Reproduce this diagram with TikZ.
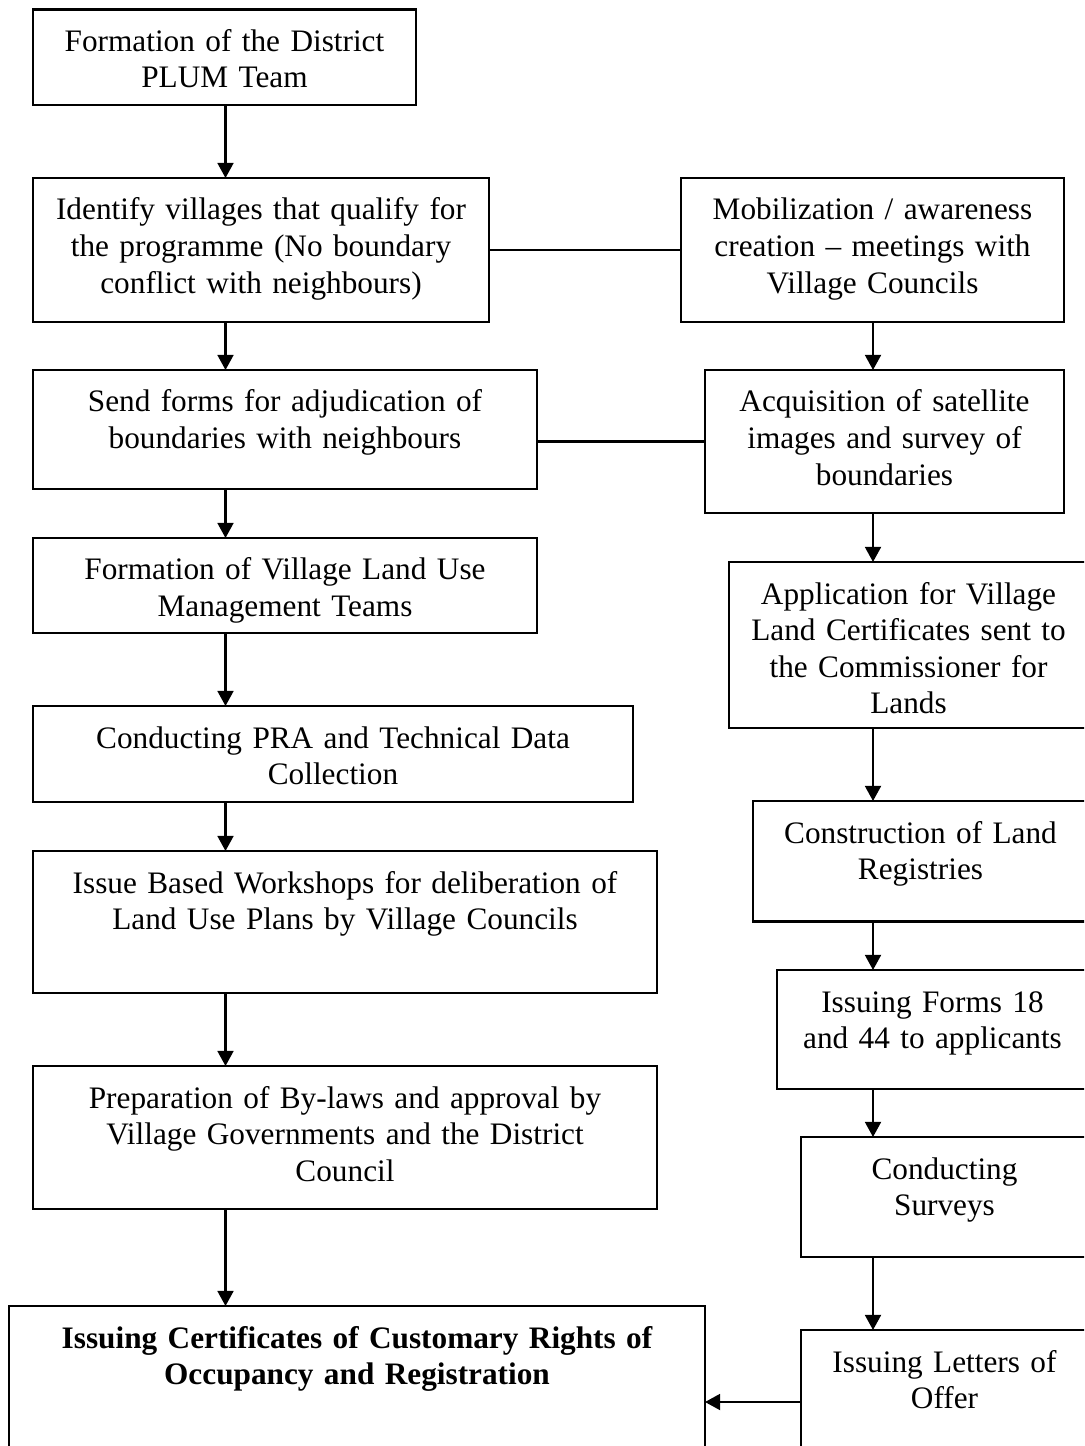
\documentclass[tikz,border=0pt]{standalone}
\usepackage{fontspec}
\setmainfont{Liberation Serif}
\usetikzlibrary{arrows.meta,calc}
\newdimen\pxu
\pxu=0.378pt
\tikzset{
  pl/.style={font=\fontsize{11.82pt}{13.8pt}\selectfont, text=black},
  plbox/.style 2 args={
    pl, draw=black, line width=0.85pt, align=center, anchor=north west,
    inner sep=0pt, outer sep=0pt, text width=#1\pxu,
    text height=42\pxu, text depth=#2\pxu
  },
  plarr/.style={-{Triangle[length=5.7pt,width=6pt]}, line width=0.85pt, draw=black},
  plline/.style={line width=0.85pt, draw=black},
}

\begin{document}
\begin{tikzpicture}[pl, x=\pxu, y=-\pxu]
    \useasboundingbox (0,0) rectangle (1084,1446);
    \clip (0,0) rectangle (1084,1446);

    % left column
    \node[plbox={383}{53.5}] (form) at (33,9.5) {Formation of the District\\PLUM Team};
    \node[plbox={456}{102}] (ident) at (33,178) {Identify villages that qualify for\\the programme (No boundary\\conflict with neighbours)};
    \node[plbox={504}{77}] (send) at (33,370) {Send forms for adjudication of\\boundaries with neighbours};
    \node[plbox={504}{53}] (vlum) at (33,538) {Formation of Village Land Use\\Management Teams};
    \node[plbox={600}{54}] (pra) at (33,706) {Conducting PRA and Technical Data\\Collection};
    \node[plbox={624}{100}] (work) at (33,851) {Issue Based Workshops for deliberation of\\Land Use Plans by Village Councils};
    \node[plbox={624}{101}] (bylaw) at (33,1066) {Preparation of By-laws and approval by\\Village Governments and the District\\Council};
    \node[plbox={696}{128}, font=\fontsize{11.82pt}{13.8pt}\selectfont\bfseries] (cert) at (9,1306) {Issuing Certificates of Customary Rights of\\Occupancy and Registration};

    % right column
    \node[plbox={383}{102}] (mob) at (681,178) {Mobilization / awareness\\creation -- meetings with\\Village Councils};
    \node[plbox={359}{101}] (acq) at (705,370) {Acquisition of satellite\\images and survey of\\boundaries};
    \node[plbox={359}{124}] (app) at (729,562) {Application for Village\\Land Certificates sent to\\the Commissioner for\\Lands};
    \node[plbox={335}{78.5}] (reg) at (753,801) {Construction of Land\\Registries};
    \node[plbox={311}{77}] (forms) at (777,970) {Issuing Forms 18\\and 44 to applicants};
    \node[plbox={287}{78}] (surv) at (801,1137) {Conducting\\Surveys};
    \node[plbox={287}{102}] (offer) at (801,1330) {Issuing Letters of\\Offer};

    \coordinate (lx) at (225.5,0);
    \coordinate (rx) at (873,0);

    \foreach \a/\b in {form/ident, ident/send, send/vlum, vlum/pra, pra/work, work/bylaw, bylaw/cert}
      \draw[plarr] (\a.south -| lx) -- (\b.north -| lx);
    \foreach \a/\b in {mob/acq, acq/app, app/reg, reg/forms, forms/surv, surv/offer}
      \draw[plarr] (\a.south -| rx) -- (\b.north -| rx);

    \draw[plline] (ident.east) -- (mob.west);
    \draw[plline] (send.east |- acq.west) -- (acq.west);
    \draw[plarr] (offer.west) -- (offer.west -| cert.east);
  \end{tikzpicture}
\end{document}
